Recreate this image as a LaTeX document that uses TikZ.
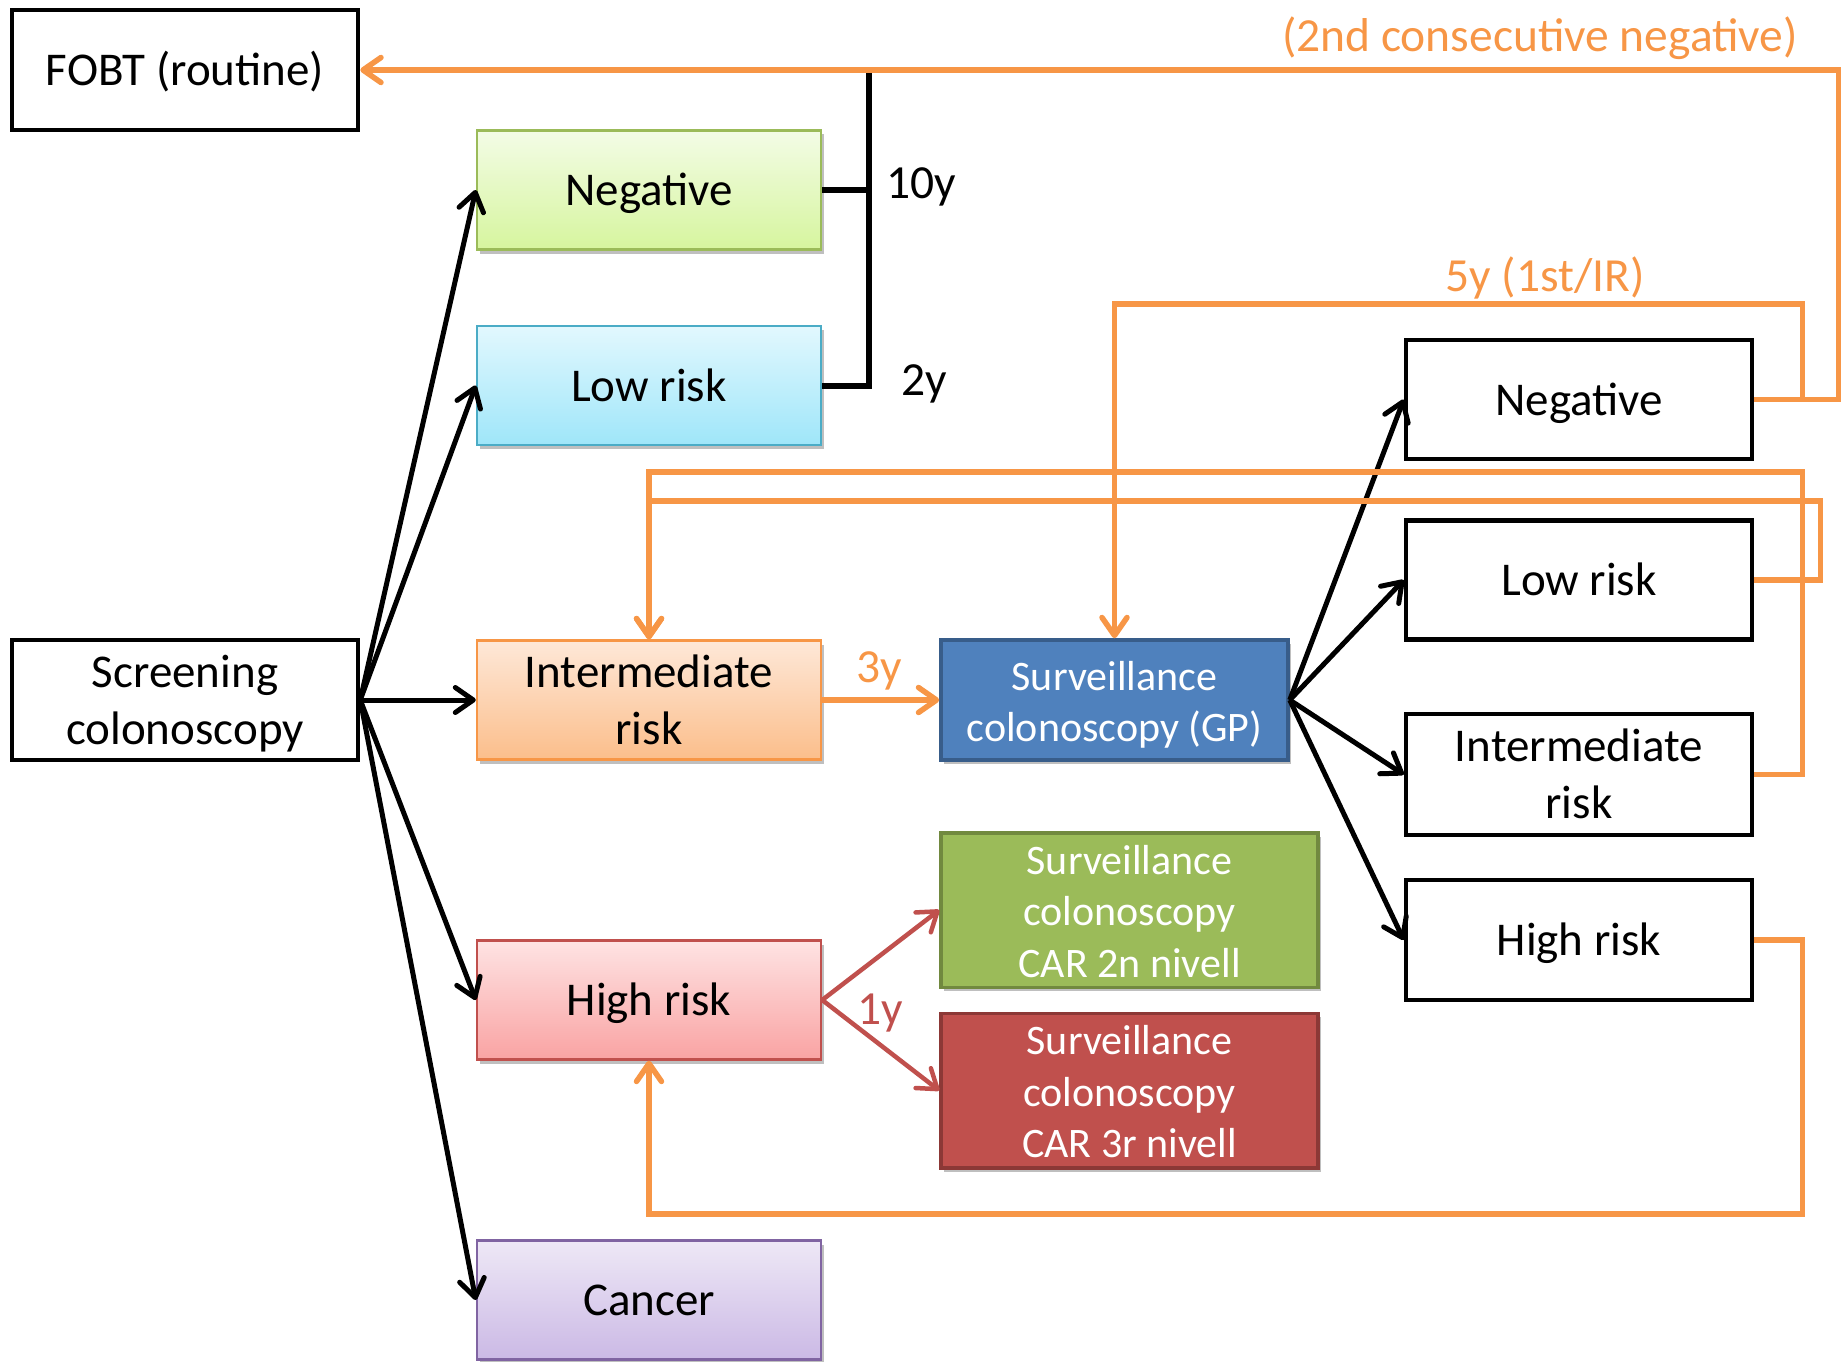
\documentclass[tikz,border=0pt]{standalone}
\usepackage{fontspec}
\setmainfont{Carlito}
\usetikzlibrary{arrows.meta,shadows}
\definecolor{orng}{HTML}{F79646}
\definecolor{redl}{HTML}{C0504D}
\definecolor{gtop}{HTML}{F3FCE6}\definecolor{gbot}{HTML}{D6F59E}\definecolor{gbor}{HTML}{9BBB59}
\definecolor{btop}{HTML}{E2F8FE}\definecolor{bbot}{HTML}{9FE6F9}\definecolor{bbor}{HTML}{4BACC6}
\definecolor{otop}{HTML}{FEE8D8}\definecolor{obot}{HTML}{FBBE8B}\definecolor{obor}{HTML}{F79646}
\definecolor{rtop}{HTML}{FEE3E3}\definecolor{rbot}{HTML}{F9A3A3}\definecolor{rbor}{HTML}{C0504D}
\definecolor{ptop}{HTML}{EEE8F6}\definecolor{pbot}{HTML}{CBB9E5}\definecolor{pbor}{HTML}{8064A2}
\definecolor{gpfill}{HTML}{4F81BD}\definecolor{gpbor}{HTML}{385D8A}
\definecolor{g2fill}{HTML}{9BBB59}\definecolor{g2bor}{HTML}{71893F}
\definecolor{r3fill}{HTML}{C0504D}\definecolor{r3bor}{HTML}{8C3836}
% line struts imitating the line box of the original
\newcommand{\lsA}{\rule[-13pt]{0pt}{57pt}}
\newcommand{\lsB}{\rule[-10pt]{0pt}{51.5pt}}
\begin{document}
\begin{tikzpicture}[x=1pt,y=-1pt,
  base/.style={rectangle, minimum width=344pt, minimum height=119pt, align=center,
    inner sep=0pt, font=\fontsize{47}{57}\selectfont},
  blk/.style={base, draw=black, line width=4.5pt, fill=white},
  shad/.style={drop shadow={shadow xshift=3pt, shadow yshift=-4pt, opacity=0.25, fill=black}},
  colbox/.style n args={3}{base, draw=#3, line width=2.4pt, top color=#1, bottom color=#2, shad},
  survbox/.style n args={2}{base, fill=#1, draw=#2, line width=3.5pt, text=white,
    font=\fontsize{42}{51.5}\selectfont, shad},
  tip/.style={-{Straight Barb[length=18pt,width=25pt,line cap=round,line join=round]}},
  conn/.style={line width=5pt, tip},
  oconn/.style={line width=5.5pt, draw=orng, tip},
  rconn/.style={line width=4.5pt, draw=redl, tip},
  busline/.style={line width=6pt},
  lab/.style={font=\fontsize{47.5}{57}\selectfont, inner sep=0pt}
]
\useasboundingbox (0,0) rectangle (1845,1362);
% left column
\node[blk, minimum width=346pt, minimum height=120pt] (fobt) at (185,70) {\lsA FOBT (routine)};
\node[blk, minimum width=346pt, minimum height=120pt] (scr) at (185,700) {\lsA Screening\\\lsA colonoscopy};
% middle column
\node[colbox={gtop}{gbot}{gbor}] (neg) at (649,190) {\lsA Negative};
\node[colbox={btop}{bbot}{bbor}] (low) at (649,385.5) {\lsA Low risk};
\node[colbox={otop}{obot}{obor}] (int) at (649,700) {\lsA Intermediate\\\lsA risk};
\node[colbox={rtop}{rbot}{rbor}] (high) at (649,1000) {\lsA High risk};
\node[colbox={ptop}{pbot}{pbor}] (can) at (649,1300) {\lsA Cancer};
% surveillance
\node[survbox={gpfill}{gpbor}, minimum width=347pt, minimum height=120pt] (gp) at (1114.5,700) {\lsB Surveillance\\\lsB colonoscopy (GP)};
\node[survbox={g2fill}{g2bor}, minimum width=377pt, minimum height=150pt] (car2) at (1129.5,910) {\lsB Surveillance\\\lsB colonoscopy\\\lsB CAR 2n nivell};
\node[survbox={r3fill}{r3bor}, minimum width=377pt, minimum height=151pt] (car3) at (1129.5,1090.5) {\lsB Surveillance\\\lsB colonoscopy\\\lsB CAR 3r nivell};
% right column
\node[blk, minimum width=346pt] (rneg) at (1579,399.5) {\lsA Negative};
\node[blk, minimum width=346pt] (rlow) at (1579,580) {\lsA Low risk};
\node[blk, minimum width=346pt, minimum height=121pt] (rint) at (1579,774.5) {\lsA Intermediate\\\lsA risk};
\node[blk, minimum width=346pt, minimum height=120pt] (rhigh) at (1579,940) {\lsA High risk};
% labels
\node[lab] (l10) at (921,187) {10y};
\node[lab] (l2) at (924,384) {2y};
\node[lab, text=orng] (l3) at (879,671) {3y};
\node[lab, text=redl] (l1) at (880,1013) {1y};
\node[lab, text=orng] (l5) at (1545,278) {5y (1st/IR)};
\node[lab, text=orng] (l2nd) at (1540,38) {(2nd consecutive negative)};
% black connectors from screening
\draw[conn] (scr.east) -- (neg.west);
\draw[conn] (scr.east) -- (low.west);
\draw[conn] (scr.east) -- (int.west);
\draw[conn] (scr.east) -- (high.west);
\draw[conn] (scr.east) -- (can.west);
% black connectors from GP
\draw[conn] (gp.east) -- (rneg.west);
\draw[conn] (gp.east) -- (rlow.west);
\draw[conn] (gp.east) -- (rint.west);
\draw[conn] (gp.east) -- (rhigh.west);
% bus to FOBT
\coordinate (bus) at (869,70);
\draw[busline] (neg.east) -| (bus);
\draw[busline] (low.east) -| (bus);
% orange loops
\draw[oconn] (rneg.east) -- ++(84,0) |- (fobt.east);
\draw[oconn] (rneg.east) -- ++(48,0) |- (gp.north |- 0,304) -- (gp.north);
\draw[oconn] (rint.east) -- ++(48,0) |- (int.north |- 0,472) -- (int.north);
\draw[oconn] (rlow.east) -- ++(66,0) |- (int.north |- 0,501) -- (int.north);
\draw[oconn] (rhigh.east) -- ++(48,0) |- (high.south |- 0,1214) -- (high.south);
\draw[oconn] (int.east) -- (gp.west);
% red
\draw[rconn] (high.east) -- (car2.west);
\draw[rconn] (high.east) -- (car3.west);
\end{tikzpicture}
\end{document}
